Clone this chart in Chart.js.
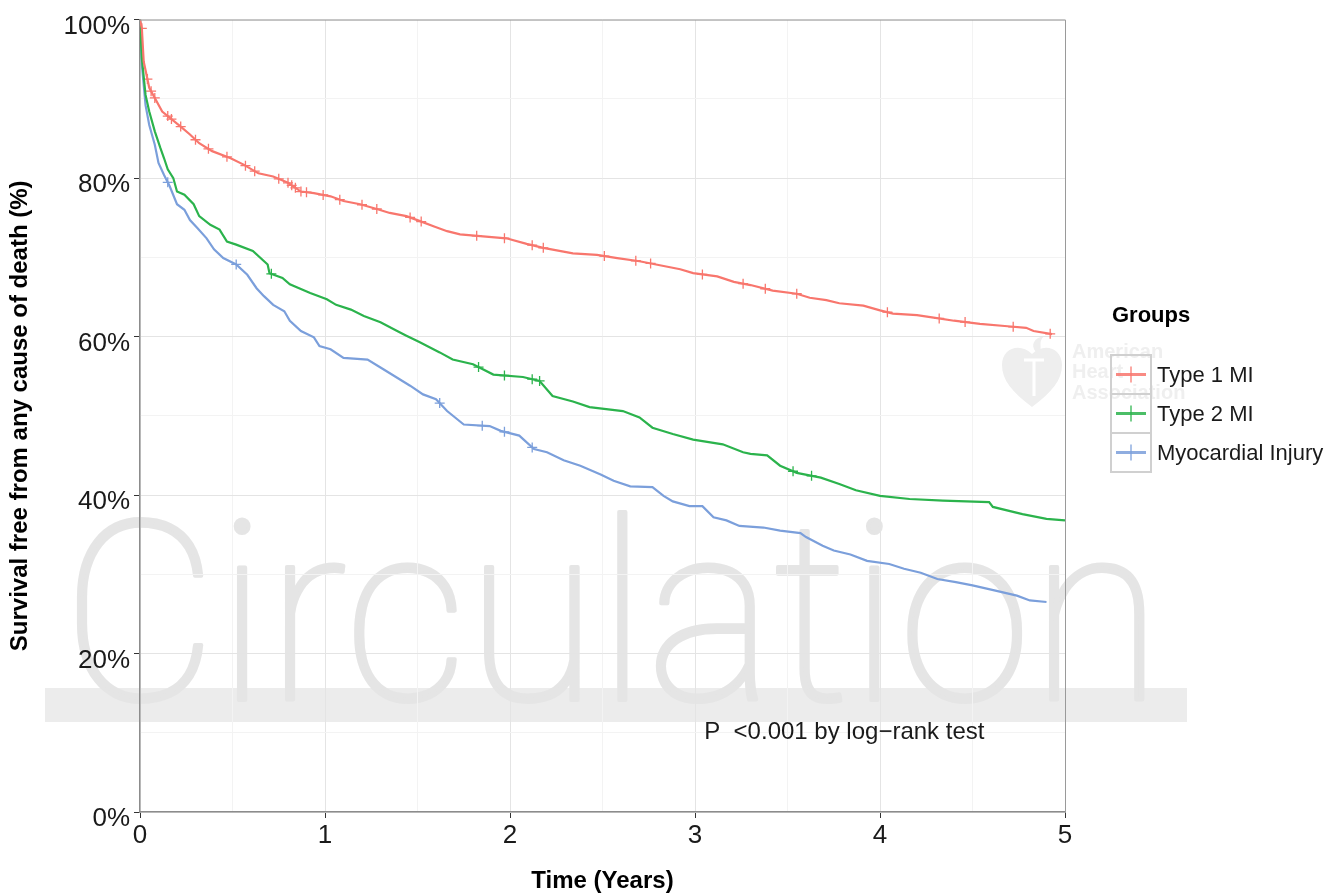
<!DOCTYPE html>
<html>
<head>
<meta charset="utf-8">
<script src="https://cdn.jsdelivr.net/npm/chart.js@4.4.0/dist/chart.umd.min.js"></script>
<style>
  html, body { margin: 0; padding: 0; background: #fff; }
</style>
</head>
<body>
<canvas id="kmChart" width="1328" height="896"></canvas>
<script>
// Kaplan-Meier survival (years, % surviving)
const groupNames = ['Type 1 MI', 'Type 2 MI', 'Myocardial Injury'];
const groupColors = ['#F8766D', '#2BB34C', '#7B9FDB'];

const tickYears = [0, 1, 2, 3, 4, 5];
const tickPercents = [0, 20, 40, 60, 80, 100];

const type1Time = [0, 0.01, 0.02, 0.05, 0.12, 0.22, 0.27, 0.32, 0.39, 0.49, 0.56, 0.64, 0.72, 0.80, 0.87, 0.94, 1.03, 1.10, 1.19, 1.28,
  1.35, 1.44, 1.51, 1.59, 1.66, 1.73, 1.87, 1.98, 2.09, 2.18, 2.34, 2.47, 2.58, 2.70, 2.81, 2.92, 2.99, 3.12, 3.21, 3.30,
  3.42, 3.55, 3.62, 3.71, 3.78, 3.91, 4.00, 4.07, 4.20, 4.29, 4.40, 4.54, 4.69, 4.79, 4.83, 4.93];
const type1Surv = [100, 98.9, 94.7, 91.4, 88.4, 86.5, 85.5, 84.4, 83.4, 82.5, 81.7, 80.6, 80.2, 79.4, 78.3, 78.1, 77.7, 77.1, 76.7, 76.1,
  75.6, 75.2, 74.6, 73.9, 73.3, 72.9, 72.6, 72.4, 71.7, 71.2, 70.5, 70.3, 69.9, 69.5, 69.0, 68.5, 68.0, 67.6, 66.9, 66.5,
  65.8, 65.4, 64.9, 64.6, 64.2, 63.9, 63.3, 62.9, 62.7, 62.4, 62.0, 61.6, 61.3, 61.1, 60.7, 60.3];
const type1Censor = [0.01, 0.04, 0.06, 0.08, 0.15, 0.17, 0.22, 0.30, 0.37, 0.47, 0.57, 0.62, 0.75, 0.80, 0.82, 0.84, 0.87, 0.90, 0.99, 1.08,
  1.20, 1.28, 1.46, 1.52, 1.82, 1.97, 2.12, 2.18, 2.51, 2.68, 2.76, 3.04, 3.26, 3.38, 3.55, 4.04, 4.32, 4.46, 4.72, 4.92];

const type2Time = [0, 0.01, 0.03, 0.05, 0.08, 0.11, 0.13, 0.15, 0.18, 0.20, 0.24, 0.29, 0.32, 0.38, 0.43, 0.47, 0.52, 0.61, 0.69, 0.70,
  0.77, 0.81, 0.92, 1.01, 1.06, 1.14, 1.21, 1.30, 1.39, 1.44, 1.51, 1.62, 1.69, 1.80, 1.91, 2.07, 2.16, 2.23, 2.34, 2.43,
  2.61, 2.70, 2.77, 2.88, 2.99, 3.15, 3.26, 3.30, 3.39, 3.46, 3.55, 3.68, 3.78, 3.87, 4.00, 4.16, 4.34, 4.59, 4.61, 4.77,
  4.90, 5.00];
const type2Surv = [100, 95.1, 90.5, 88.4, 85.9, 83.8, 82.5, 81.1, 80.0, 78.3, 77.9, 76.7, 75.2, 74.1, 73.5, 72.0, 71.6, 70.8, 69.1, 68.0,
  67.4, 66.6, 65.5, 64.7, 64.0, 63.4, 62.6, 61.8, 60.7, 60.1, 59.3, 58.0, 57.1, 56.5, 55.2, 54.9, 54.4, 52.5, 51.8, 51.1,
  50.6, 49.8, 48.5, 47.7, 47.0, 46.4, 45.4, 45.2, 45.0, 43.7, 42.8, 42.2, 41.4, 40.6, 39.9, 39.5, 39.3, 39.1, 38.5, 37.6,
  37.0, 36.8];
const type2Censor = [0.71, 1.83, 1.97, 2.12, 2.16, 3.53, 3.63];

const injuryTime = [0, 0.01, 0.03, 0.05, 0.08, 0.10, 0.13, 0.16, 0.20, 0.24, 0.27, 0.31, 0.36, 0.40, 0.45, 0.52, 0.58, 0.63, 0.67, 0.72,
  0.78, 0.81, 0.87, 0.94, 0.97, 1.03, 1.10, 1.23, 1.30, 1.39, 1.46, 1.53, 1.60, 1.66, 1.75, 1.89, 1.95, 2.05, 2.13, 2.20,
  2.29, 2.38, 2.49, 2.56, 2.65, 2.77, 2.83, 2.88, 2.97, 3.04, 3.10, 3.17, 3.24, 3.37, 3.46, 3.57, 3.60, 3.69, 3.75, 3.84,
  3.93, 4.05, 4.13, 4.22, 4.31, 4.41, 4.50, 4.63, 4.74, 4.81, 4.90];
const injurySurv = [100, 94.3, 89.2, 86.7, 84.2, 81.9, 80.4, 79.0, 76.7, 76.0, 74.7, 73.7, 72.4, 71.0, 69.9, 69.1, 67.8, 66.1, 65.1, 64.0,
  63.2, 62.0, 60.7, 59.9, 58.8, 58.4, 57.3, 57.1, 56.1, 54.8, 53.8, 52.7, 52.1, 50.6, 48.9, 48.7, 48.1, 47.5, 45.8, 45.4,
  44.4, 43.7, 42.6, 41.8, 41.1, 41.0, 39.9, 39.2, 38.6, 38.6, 37.2, 36.8, 36.1, 35.9, 35.5, 35.2, 34.7, 33.6, 33.0, 32.5,
  31.7, 31.3, 30.7, 30.2, 29.4, 29.0, 28.6, 27.9, 27.3, 26.7, 26.5];
const injuryCensor = [0.15, 0.52, 1.62, 1.85, 1.97, 2.12];

const FONT = "'Liberation Sans', Arial, Helvetica, sans-serif";

function toPoints(times, surv) {
  return times.map((t, i) => ({ x: t, y: surv[i] }));
}
// where the drawn curve sits at time t
function levelAt(times, surv, t) {
  for (let i = 1; i < times.length; i++) {
    if (times[i] >= t) {
      const f = (t - times[i - 1]) / (times[i] - times[i - 1]);
      return surv[i - 1] + f * (surv[i] - surv[i - 1]);
    }
  }
  return surv[surv.length - 1];
}
function censorPoints(ct, times, surv) {
  return ct.map(t => ({ x: t, y: levelAt(times, surv, t) }));
}

const series = [
  [type1Time, type1Surv, type1Censor],
  [type2Time, type2Surv, type2Censor],
  [injuryTime, injurySurv, injuryCensor]
];

const datasets = [];
series.forEach((s, i) => {
  datasets.push({
    label: groupNames[i],
    data: toPoints(s[0], s[1]),
    borderColor: groupColors[i],
    borderWidth: 2.2,
    tension: 0,
    pointRadius: 0,
    fill: false
  });
});
series.forEach((s, i) => {
  datasets.push({
    label: groupNames[i] + ' censored',
    data: censorPoints(s[2], s[0], s[1]),
    showLine: false,
    pointStyle: 'cross',
    pointRadius: 5,
    borderColor: groupColors[i],
    borderWidth: 1.3
  });
});

// watermark behind the plot
const watermark = {
  id: 'watermark',
  beforeDraw(chart) {
    const ctx = chart.ctx;
    ctx.save();
    ctx.fillStyle = '#ececec';
    ctx.fillRect(45, 688, 1142, 34);
    ctx.font = "100 250px Roboto, 'Liberation Sans', sans-serif";
    ctx.fillStyle = '#e5e5e5';
    ctx.strokeStyle = '#e5e5e5';
    ctx.textBaseline = 'alphabetic';
    const w = ctx.measureText('Circulation').width;
    ctx.translate(62, 700);
    ctx.scale(1100 / w, 1);
    ctx.lineWidth = 4;
    ctx.lineJoin = 'round';
    ctx.fillText('Circulation', 0, 0);
    ctx.strokeText('Circulation', 0, 0);
    ctx.restore();

    // heart logo
    ctx.save();
    ctx.fillStyle = '#eeeeee';
    ctx.beginPath();
    ctx.moveTo(1032, 407);
    ctx.bezierCurveTo(1012, 392, 1002, 380, 1002, 365);
    ctx.bezierCurveTo(1002, 348, 1020, 342, 1032, 354);
    ctx.bezierCurveTo(1044, 342, 1062, 348, 1062, 365);
    ctx.bezierCurveTo(1062, 380, 1052, 392, 1032, 407);
    ctx.fill();
    ctx.beginPath();
    ctx.moveTo(1036, 352);
    ctx.bezierCurveTo(1030, 345, 1034, 338, 1044, 336);
    ctx.bezierCurveTo(1038, 342, 1042, 346, 1040, 352);
    ctx.fill();
    ctx.strokeStyle = '#ffffff';
    ctx.lineWidth = 3;
    ctx.beginPath();
    ctx.moveTo(1024, 360); ctx.lineTo(1044, 360);
    ctx.moveTo(1034, 360); ctx.lineTo(1034, 396);
    ctx.stroke();
    ctx.fillStyle = '#efefef';
    ctx.font = 'bold 20px ' + FONT;
    ctx.textBaseline = 'middle';
    ctx.fillText('American', 1072, 352);
    ctx.fillText('Heart', 1072, 372);
    ctx.fillText('Association', 1072, 393);
    ctx.restore();
  }
};

// frame, p-value note and legend
const overlay = {
  id: 'overlay',
  afterDraw(chart) {
    const ctx = chart.ctx;
    const a = chart.chartArea;
    const xs = chart.scales.x, ys = chart.scales.y;
    ctx.save();
    ctx.strokeStyle = '#9a9a9a';
    ctx.lineWidth = 1;
    ctx.beginPath();
    ctx.moveTo(a.left, a.top + 0.5); ctx.lineTo(a.right + 0.5, a.top + 0.5);
    ctx.lineTo(a.right + 0.5, a.bottom);
    ctx.stroke();

    ctx.fillStyle = '#1a1a1a';
    ctx.font = '24px ' + FONT;
    ctx.textBaseline = 'middle';
    ctx.textAlign = 'left';
    ctx.fillText('P  <0.001 by log\u2212rank test', xs.getPixelForValue(3.05), ys.getPixelForValue(10));

    // legend
    ctx.fillStyle = '#000';
    ctx.font = 'bold 22px ' + FONT;
    ctx.fillText('Groups', 1112, 316);
    const bx = 1111, by = 355, bw = 40, bh = 39;
    groupNames.forEach((name, i) => {
      const y0 = by + i * bh;
      ctx.strokeStyle = '#d0d0d0';
      ctx.lineWidth = 2;
      ctx.strokeRect(bx, y0, bw, bh);
      const cy = y0 + bh / 2;
      ctx.strokeStyle = groupColors[i];
      ctx.globalAlpha = 0.85;
      ctx.lineWidth = 3;
      ctx.beginPath();
      ctx.moveTo(bx + 5, cy); ctx.lineTo(bx + bw - 5, cy);
      ctx.stroke();
      ctx.lineWidth = 1.5;
      ctx.beginPath();
      ctx.moveTo(bx + bw / 2, cy - 8); ctx.lineTo(bx + bw / 2, cy + 8);
      ctx.stroke();
      ctx.globalAlpha = 1;
      ctx.fillStyle = '#1a1a1a';
      ctx.font = '22px ' + FONT;
      ctx.fillText(name, 1157, cy + 1);
    });
    ctx.restore();
  }
};

const isMajorX = v => tickYears.includes(v);
const isMajorY = v => tickPercents.includes(v);

new Chart(document.getElementById('kmChart').getContext('2d'), {
  type: 'line',
  data: { datasets: datasets },
  options: {
    responsive: false,
    animation: false,
    layout: { padding: { top: 18, right: 263, left: 0, bottom: 0 } },
    plugins: {
      legend: { display: false },
      tooltip: { enabled: false }
    },
    scales: {
      x: {
        type: 'linear',
        min: 0,
        max: 5,
        afterFit: s => { s.height = 84; },
        ticks: {
          stepSize: 0.5,
          autoSkip: false,
          maxRotation: 0,
          padding: 2,
          color: '#1a1a1a',
          font: { size: 26, family: FONT },
          callback: v => isMajorX(v) ? String(v) : ''
        },
        grid: {
          color: c => isMajorX(c.tick.value) ? '#e4e4e4' : '#f3f3f3',
          tickLength: 6,
          tickColor: c => isMajorX(c.tick.value) ? '#333' : 'rgba(0,0,0,0)'
        },
        border: { color: '#8c8c8c', width: 1.5 },
        title: {
          display: true,
          text: 'Time (Years)',
          color: '#000',
          font: { size: 24, weight: 'bold', family: FONT },
          padding: { top: 0, bottom: 0 }
        }
      },
      y: {
        min: 0,
        max: 100,
        afterFit: s => { s.width = 140; },
        ticks: {
          stepSize: 10,
          autoSkip: false,
          padding: 4,
          labelOffset: 7,
          color: '#1a1a1a',
          font: { size: 26, family: FONT },
          callback: v => isMajorY(v) ? v + '%' : ''
        },
        grid: {
          color: c => isMajorY(c.tick.value) ? '#e4e4e4' : '#f3f3f3',
          tickLength: 6,
          tickColor: c => isMajorY(c.tick.value) ? '#333' : 'rgba(0,0,0,0)'
        },
        border: { color: '#8c8c8c', width: 1.5 },
        title: {
          display: true,
          text: 'Survival free from any cause of death (%)',
          color: '#000',
          font: { size: 24, weight: 'bold', family: FONT },
          padding: { top: 6, bottom: 0 }
        }
      }
    }
  },
  plugins: [watermark, overlay]
});
</script>
</body>
</html>
